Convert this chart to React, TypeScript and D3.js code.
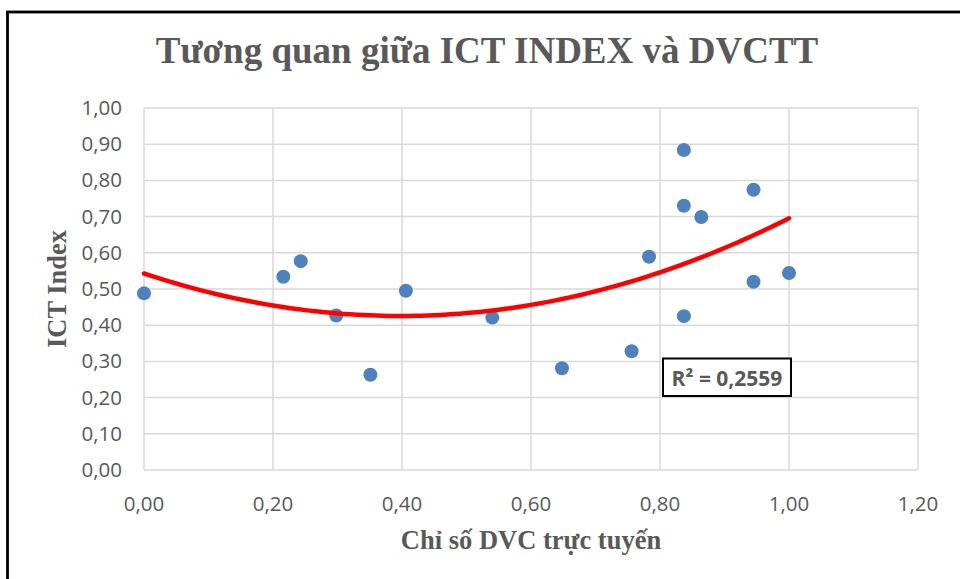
import React from 'react';
import * as d3 from 'd3';

// Chỉ số DVC trực tuyến (x) vs ICT Index (y)
const dvcValues = [0.0, 0.216, 0.243, 0.298, 0.351, 0.406, 0.54, 0.648, 0.756, 0.783, 0.837, 0.837, 0.837, 0.864, 0.945, 0.945, 1.0];
const ictValues = [0.488, 0.534, 0.577, 0.427, 0.263, 0.495, 0.421, 0.281, 0.328, 0.589, 0.884, 0.73, 0.425, 0.699, 0.774, 0.52, 0.544];

const xTicks = [0, 0.2, 0.4, 0.6, 0.8, 1.0, 1.2];
const yTicks = [0, 0.1, 0.2, 0.3, 0.4, 0.5, 0.6, 0.7, 0.8, 0.9, 1.0];

const title = 'Tương quan giữa ICT INDEX và DVCTT';
const xTitle = 'Chỉ số DVC trực tuyến';
const yTitle = 'ICT Index';
const r2Label = 'R² = 0,2559';

const W = 960;
const H = 579;
const grey = '#595959';
const fmt = (v: number) => v.toFixed(2).replace('.', ',');

// least squares fit for y = a + b x + c x^2
function polyFit(xs: number[], ys: number[]) {
  const s = (p: number) => d3.sum(xs, x => Math.pow(x, p));
  const t = (p: number) => d3.sum(xs, (x, i) => Math.pow(x, p) * ys[i]);
  const m = [
    [s(0), s(1), s(2), t(0)],
    [s(1), s(2), s(3), t(1)],
    [s(2), s(3), s(4), t(2)],
  ];
  for (let i = 0; i < 3; i++) {
    for (let k = i + 1; k < 3; k++) {
      const f = m[k][i] / m[i][i];
      for (let j = i; j < 4; j++) m[k][j] -= f * m[i][j];
    }
  }
  const c = [0, 0, 0];
  for (let i = 2; i >= 0; i--) {
    let v = m[i][3];
    for (let j = i + 1; j < 3; j++) v -= m[i][j] * c[j];
    c[i] = v / m[i][i];
  }
  return (x: number) => c[0] + c[1] * x + c[2] * x * x;
}

export default function App() {
  const x = d3.scaleLinear().domain([0, 1.2]).range([144, 918]);
  const y = d3.scaleLinear().domain([0, 1]).range([470, 108]);

  const fit = polyFit(dvcValues, ictValues);
  const [xMin, xMax] = d3.extent(dvcValues) as [number, number];
  const trend = d3.range(0, 101).map(i => xMin + (xMax - xMin) * i / 100);
  const line = d3.line<number>().x(d => x(d)).y(d => y(fit(d)));

  return (
    <svg width={W} height={H} style={{ position: 'absolute', left: 0, top: 0, background: '#fff' }}>
      <rect x={0} y={0} width={W} height={H} fill="#fff" />
      <rect x={7.5} y={12} width={W + 20} height={H + 20} fill="#fff" stroke="#000" strokeWidth={2.8} />

      <text x={487} y={63} textAnchor="middle" fontFamily="'Liberation Serif', serif" fontWeight="bold"
        fontSize={37} fill={grey}>{title}</text>

      {/* grid */}
      {yTicks.map(t => (
        <line key={'gy' + t} x1={x(0)} x2={x(1.2)} y1={y(t)} y2={y(t)} stroke="#d9d9d9" strokeWidth={1.5} />
      ))}
      {xTicks.map(t => (
        <line key={'gx' + t} x1={x(t)} x2={x(t)} y1={y(0)} y2={y(1)} stroke="#d9d9d9" strokeWidth={1.5} />
      ))}

      {/* tick labels */}
      {yTicks.map(t => (
        <text key={'ty' + t} x={122} y={y(t) + 7} textAnchor="end" fontFamily="'Open Sans', sans-serif"
          fontSize={20.5} fill={grey}>{fmt(t)}</text>
      ))}
      {xTicks.map(t => (
        <text key={'tx' + t} x={x(t)} y={511} textAnchor="middle" fontFamily="'Open Sans', sans-serif"
          fontSize={20.5} fill={grey}>{fmt(t)}</text>
      ))}

      {/* axis titles */}
      <text x={531} y={549} textAnchor="middle" fontFamily="'Liberation Serif', serif" fontWeight="bold"
        fontSize={26.5} fill={grey}>{xTitle}</text>
      <text transform={`translate(66,${(y(0) + y(1)) / 2}) rotate(-90)`} textAnchor="middle"
        fontFamily="'Liberation Serif', serif" fontWeight="bold" fontSize={26.5} fill={grey}>{yTitle}</text>

      {/* points */}
      {dvcValues.map((d, i) => (
        <circle key={'p' + i} cx={x(d)} cy={y(ictValues[i])} r={7} fill="#4f81bd" />
      ))}

      {/* polynomial trendline */}
      <path d={line(trend) || ''} fill="none" stroke="#ff0000" strokeWidth={4.5} strokeLinecap="round" />

      {/* R² label */}
      <rect x={663} y={358.5} width={128} height={37.5} fill="#fff" stroke="#000" strokeWidth={2} />
      <text x={727} y={386} textAnchor="middle" fontFamily="'Open Sans', sans-serif" fontWeight="bold"
        fontSize={21} fill={grey}>{r2Label}</text>
    </svg>
  );
}
